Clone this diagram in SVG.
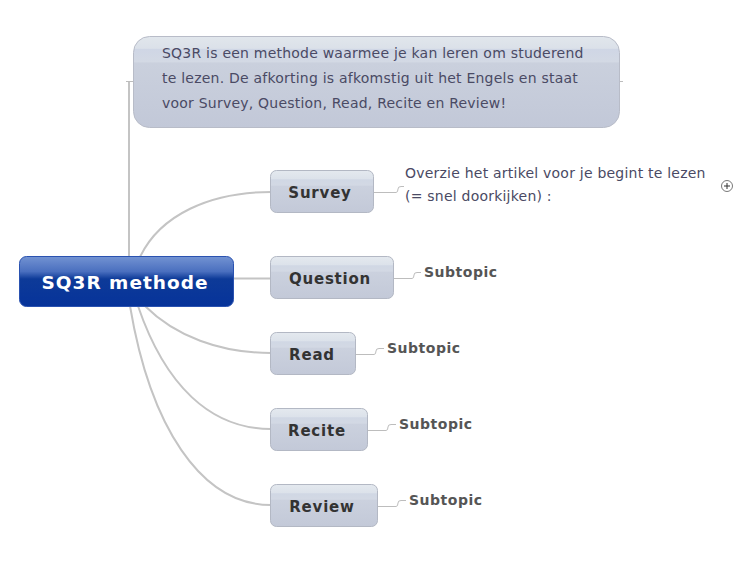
<svg xmlns="http://www.w3.org/2000/svg" width="750" height="563" viewBox="0 0 750 563">
<defs>
<linearGradient id="gTopic" x1="0" y1="0" x2="0" y2="1">
<stop offset="0" stop-color="#e4e9ef"/>
<stop offset="0.2" stop-color="#dce2ea"/>
<stop offset="0.22" stop-color="#d0d7e4"/>
<stop offset="0.35" stop-color="#d3d9e4"/>
<stop offset="0.37" stop-color="#cbd1de"/>
<stop offset="1" stop-color="#c3c9d8"/>
</linearGradient>
<linearGradient id="gCallout" x1="0" y1="0" x2="0" y2="1">
<stop offset="0" stop-color="#e1e6ec"/>
<stop offset="0.13" stop-color="#dbe1e9"/>
<stop offset="0.14" stop-color="#cfd6e5"/>
<stop offset="0.28" stop-color="#d3d9e4"/>
<stop offset="0.29" stop-color="#cad0dd"/>
<stop offset="1" stop-color="#c2c8d8"/>
</linearGradient>
<linearGradient id="gCentral" x1="0" y1="0" x2="0" y2="1">
<stop offset="0" stop-color="#7393d2"/>
<stop offset="0.3" stop-color="#4a6fbf"/>
<stop offset="0.45" stop-color="#0d3a98"/>
<stop offset="1" stop-color="#06339a"/>
</linearGradient>
<style>
.topic rect{fill:url(#gTopic);stroke:#b3b8c4;stroke-width:1}
.topic text{font-family:"DejaVu Sans",Verdana,sans-serif;font-weight:bold;font-size:15px;fill:#333;text-anchor:middle;letter-spacing:0.8px}
.sub{font-family:"DejaVu Sans",Verdana,sans-serif;font-weight:bold;font-size:14px;fill:#555;letter-spacing:0.5px}
.conn path{fill:none;stroke:#c4c4c4;stroke-width:2}
.conn .thin{stroke:#bdbdbd;stroke-width:1}
.note{font-family:"DejaVu Sans",Verdana,sans-serif;font-size:14px;fill:#4a4a64;letter-spacing:0.22px}
</style>
</defs>
<rect width="750" height="563" fill="#fff"/>
<g id="connectors" class="conn">
<path d="M129,82 V257" stroke-width="3"/>
<path class="thin" d="M126,81.5 H134"/>
<path class="thin" d="M619,81.5 H623"/>
<path d="M140,257 C160,215 210,192 271,192"/>
<path d="M234,278.5 H271"/>
<path d="M145,306 C175,336 220,353 271,353"/>
<path d="M138,306 C165,385 210,429 271,429"/>
<path d="M130,306 C150,425 200,505 271,505"/>
<path class="thin" d="M374,192.5 H396 Q398,192.5 398,189 Q398,186.5 401,186.5 H404"/>
<path class="thin" d="M394,278.5 H412 Q414,278.5 414,275 Q414,272.5 417,272.5 H421"/>
<path class="thin" d="M356,354.5 H374 Q376,354.5 376,351 Q376,348.5 379,348.5 H384"/>
<path class="thin" d="M368,430.5 H386 Q388,430.5 388,427 Q388,424.5 391,424.5 H396"/>
<path class="thin" d="M378,506.5 H396 Q398,506.5 398,503 Q398,500.5 401,500.5 H406"/>
</g>
<g id="callout">
<rect x="133.5" y="36.5" width="486" height="91" rx="16" fill="url(#gCallout)" stroke="#b8bcc8"/>
<text class="note" x="162" y="58">SQ3R is een methode waarmee je kan leren om studerend</text>
<text class="note" x="162" y="83">te lezen. De afkorting is afkomstig uit het Engels en staat</text>
<text class="note" x="162" y="108">voor Survey, Question, Read, Recite en Review!</text>
</g>
<g id="central">
<rect x="19.5" y="256.5" width="214" height="50" rx="7" fill="url(#gCentral)" stroke="#2a52b0"/>
<text x="125" y="289" font-family="'DejaVu Sans',Verdana,sans-serif" font-weight="bold" font-size="18.5" fill="#fff" text-anchor="middle" letter-spacing="1">SQ3R methode</text>
</g>
<g id="survey" class="topic">
<rect x="270.5" y="170.5" width="103" height="42" rx="6"/>
<text x="320" y="198">Survey</text>
</g>
<g id="survey-note">
<text class="note" x="405" y="178">Overzie het artikel voor je begint te lezen</text>
<text class="note" x="405" y="201">(= snel doorkijken) :</text>
<circle cx="727" cy="186" r="5.5" fill="#fff" stroke="#555" stroke-width="0.8"/>
<path d="M724,186 H730 M727,183 V189" stroke="#333" stroke-width="1"/>
</g>
<g id="question" class="topic">
<rect x="270.5" y="256.5" width="123" height="42" rx="6"/>
<text x="330" y="284">Question</text>
</g>
<g id="question-sub"><text class="sub" x="424" y="277">Subtopic</text></g>
<g id="read" class="topic">
<rect x="270.5" y="332.5" width="85" height="42" rx="6"/>
<text x="312" y="360">Read</text>
</g>
<g id="read-sub"><text class="sub" x="387" y="353">Subtopic</text></g>
<g id="recite" class="topic">
<rect x="270.5" y="408.5" width="97" height="42" rx="6"/>
<text x="317" y="436">Recite</text>
</g>
<g id="recite-sub"><text class="sub" x="399" y="429">Subtopic</text></g>
<g id="review" class="topic">
<rect x="270.5" y="484.5" width="107" height="42" rx="6"/>
<text x="322" y="512">Review</text>
</g>
<g id="review-sub"><text class="sub" x="409" y="505">Subtopic</text></g>
</svg>
